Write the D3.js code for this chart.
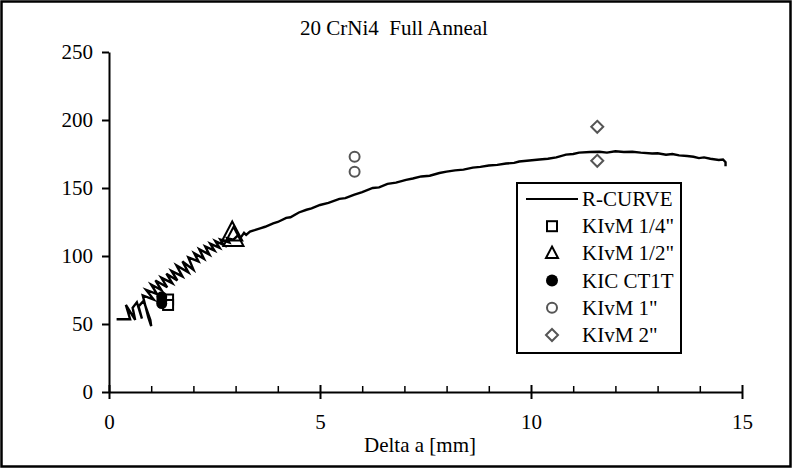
<!DOCTYPE html>
<html><head><meta charset="utf-8">
<script src="https://cdn.jsdelivr.net/npm/d3@7"></script>
<style>
html,body{margin:0;padding:0;background:#fff;}
text{font-family:"Liberation Serif","Times New Roman",serif;fill:#000;}
</style></head>
<body><svg id="c" width="793" height="468"></svg>
<script>
// ---- data ----
const title = "20 CrNi4\u00a0\u00a0Full Anneal";
const xLabel = "Delta a [mm]";
const xTicks = [0, 5, 10, 15];
const xMinorTicks = [1,2,3,4,6,7,8,9,11,12,13,14];
const yTicks = [0, 50, 100, 150, 200, 250];

// R-curve (Delta a, K)
const rCurveX = [0.18,0.50,0.40,0.62,0.56,0.66,0.78,0.70,0.82,0.98,1.00,0.93,0.80,1.06,0.88,1.14,1.00,1.24,1.10,1.38,1.24,1.50,1.36,1.62,1.48,1.74,1.60,1.88,1.74,2.00,1.88,2.12,2.02,2.25,2.14,2.38,2.28,2.50,2.40,2.62,2.52,2.72,2.64,2.85,2.80,2.95,3.05,3.12,3.20,3.25,3.34,3.45,3.60,3.70,3.89,4.00,4.20,4.30,4.50,4.68,4.80,5.00,5.20,5.46,5.60,5.80,6.00,6.25,6.40,6.60,6.80,7.04,7.20,7.40,7.60,7.83,8.00,8.20,8.40,8.62,8.80,9.00,9.20,9.41,9.60,9.72,9.90,10.20,10.40,10.60,10.83,11.00,11.14,11.40,11.62,11.80,12.00,12.20,12.40,12.60,12.87,13.00,13.20,13.35,13.51,13.70,13.85,13.98,14.10,14.25,14.45,14.55,14.61,14.61];
const rCurveY = [53.5,53.5,64,53,62,66,54,63,67,53,48.5,55,71,68,75,72,79,75,82,77,84,80,87,82,89,85,93,88,96,90,99,96,102,98,105,101,107,104,109,106,111,108,112,110,113,112,115,113.5,117,115.5,118,119,120.5,121.5,124,125,128,128.5,132,134,135,137.5,139,142,142.5,145,147,150,150.5,153,154,156,157,158.5,159,161,162,163,163.5,165,165.5,166.5,167,168,168.5,169.5,170,171,171.5,172.5,174.5,175,176,176.5,176.7,176,177,176.5,176.7,176,175.4,175.5,174.5,175,174,173.5,173,172,172.5,171.5,170.6,171,169,166];

// scatter series
const sq14X = [1.40, 1.40];  const sq14Y = [68, 64];        // KIvM 1/4"
const tri12X = [2.92, 2.95]; const tri12Y = [117, 113];     // KIvM 1/2"
const kicX = [1.25, 1.25, 1.25]; const kicY = [70, 67, 65]; // KIC CT1T
const c1X = [5.82, 5.82];    const c1Y = [173, 162];        // KIvM 1"
const d2X = [11.57, 11.57];  const d2Y = [195, 170];        // KIvM 2"

const legendLabels = ["R-CURVE", "KIvM 1/4\"", "KIvM 1/2\"", "KIC CT1T", "KIvM 1\"", "KIvM 2\""];

// ---- drawing ----
const svg = d3.select("#c");
const gray = "#555555";
svg.append("rect").attr("x",1.5).attr("y",1.5).attr("width",789).attr("height",465)
  .attr("fill","#fff").attr("stroke","#000").attr("stroke-width",2.5);

const x = d3.scaleLinear().domain([0,15]).range([109,742]);
const y = d3.scaleLinear().domain([0,250]).range([392,52]);

// axes
const gx = svg.append("g").attr("transform","translate(0,392)");
gx.call(d3.axisBottom(x).tickValues(xMinorTicks).tickSize(-6).tickFormat(""));
gx.call(g=>g.select(".domain").remove());
gx.selectAll("line").attr("stroke","#000").attr("stroke-width",1.5);
const gx2 = svg.append("g").attr("transform","translate(0,392)");
gx2.call(d3.axisBottom(x).tickValues(xTicks).tickSizeInner(7).tickSizeOuter(0).tickPadding(22).tickFormat(d3.format("d")));
gx2.select(".domain").attr("stroke","#000").attr("stroke-width",2);
gx2.selectAll(".tick line").attr("stroke","#000").attr("stroke-width",2).attr("y1",-7);
gx2.selectAll("text").attr("font-size",21).attr("font-family","Liberation Serif").attr("dy",0).attr("y",37);

const gy = svg.append("g").attr("transform","translate(109,0)");
gy.call(d3.axisLeft(y).tickValues(yTicks).tickSizeInner(7).tickSizeOuter(0).tickPadding(9).tickFormat(d3.format("d")));
gy.select(".domain").attr("stroke","#000").attr("stroke-width",2);
gy.selectAll(".tick line").attr("stroke","#000").attr("stroke-width",2);
gy.selectAll("text").attr("font-size",21).attr("font-family","Liberation Serif").attr("dy","0.33em");

// title & label
svg.append("text").attr("x",394).attr("y",35).attr("text-anchor","middle").attr("font-size",21).text(title);
svg.append("text").attr("x",420).attr("y",452).attr("text-anchor","middle").attr("font-size",21).text(xLabel);

// R-curve
const line = d3.line().x(d=>x(d[0])).y(d=>y(d[1]));
svg.append("path").datum(d3.zip(rCurveX, rCurveY)).attr("d", line)
  .attr("fill","none").attr("stroke","#000").attr("stroke-width",2.4).attr("stroke-linejoin","miter");

// markers
function marker(g, type, cx, cy, s){
  if(type==="square"){
    g.append("rect").attr("x",cx-s/2).attr("y",cy-s/2).attr("width",s).attr("height",s)
      .attr("fill","#fff").attr("stroke","#000").attr("stroke-width",2);
  } else if(type==="triangle"){
    const h = s*0.95;
    g.append("path").attr("d",`M${cx},${cy-h*0.6}L${cx+s/2},${cy+h*0.4}L${cx-s/2},${cy+h*0.4}Z`)
      .attr("fill","none").attr("stroke","#000").attr("stroke-width",2);
  } else if(type==="dot"){
    g.append("circle").attr("cx",cx).attr("cy",cy).attr("r",s/2).attr("fill","#000");
  } else if(type==="circle"){
    g.append("circle").attr("cx",cx).attr("cy",cy).attr("r",s/2).attr("fill","none").attr("stroke",gray).attr("stroke-width",2);
  } else if(type==="diamond"){
    const r=s/2;
    g.append("path").attr("d",`M${cx},${cy-r}L${cx+r},${cy}L${cx},${cy+r}L${cx-r},${cy}Z`)
      .attr("fill","none").attr("stroke",gray).attr("stroke-width",2);
  }
}
const gm = svg.append("g");
sq14X.forEach((v,i)=>marker(gm,"square",x(v),y(sq14Y[i]),10));
kicX.forEach((v,i)=>marker(gm,"dot",x(v),y(kicY[i]),11));
tri12X.forEach((v,i)=>marker(gm,"triangle",x(v),y(tri12Y[i]),20));
c1X.forEach((v,i)=>marker(gm,"circle",x(v),y(c1Y[i]),10));
d2X.forEach((v,i)=>marker(gm,"diamond",x(v),y(d2Y[i]),12));

// legend
const lg = svg.append("g");
lg.append("rect").attr("x",517).attr("y",183).attr("width",164).attr("height",170)
  .attr("fill","#fff").attr("stroke","#000").attr("stroke-width",2);
const types = ["line","square","triangle","dot","circle","diamond"];
const sizes = [0,10,12,12,10,12];
legendLabels.forEach((lab,i)=>{
  const cy = 199 + i*27.2;
  if(types[i]==="line"){
    lg.append("line").attr("x1",526).attr("x2",578).attr("y1",cy).attr("y2",cy).attr("stroke","#000").attr("stroke-width",2);
  } else marker(lg, types[i], 552, cy, sizes[i]);
  lg.append("text").attr("x",582).attr("y",cy+7).attr("font-size",21).text(lab);
});
</script></body></html>
